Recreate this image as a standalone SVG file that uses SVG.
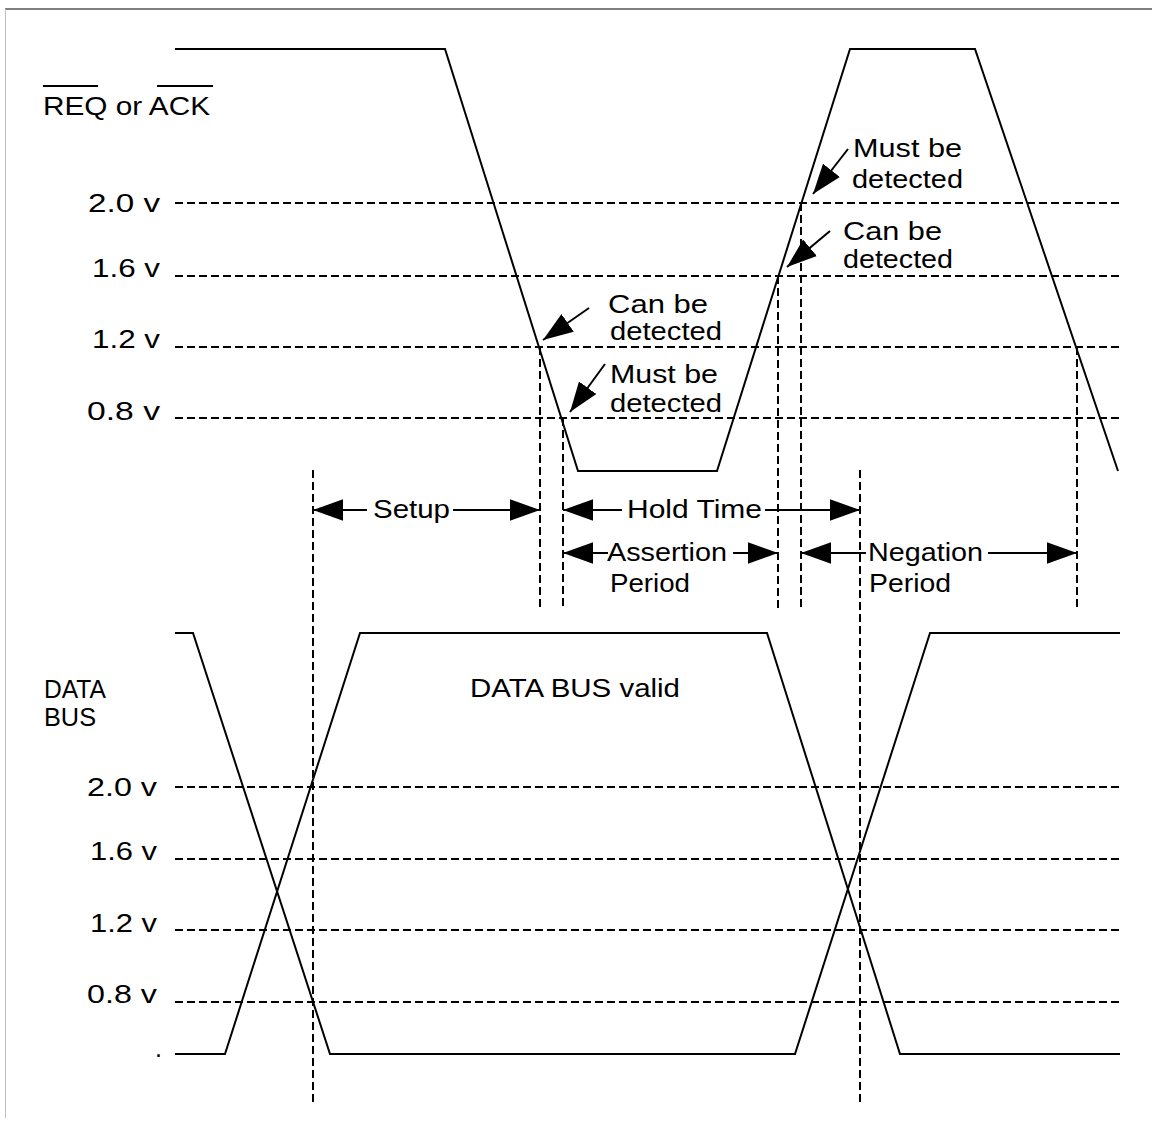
<svg xmlns="http://www.w3.org/2000/svg" width="1152" height="1138" viewBox="0 0 1152 1138">
<defs>
<style>
.t{font-family:"Liberation Sans",Arial,sans-serif;font-size:25px;fill:#000}
.w{fill:none;stroke:#000;stroke-width:2;stroke-linejoin:miter}
.d{fill:none;stroke:#000;stroke-width:2;stroke-dasharray:8 4}
.a{fill:none;stroke:#000;stroke-width:2}
</style>
<marker id="ah" markerUnits="userSpaceOnUse" markerWidth="30" markerHeight="22" viewBox="0 0 28 20" refX="28" refY="10" orient="auto">
<path d="M0,0 L28,10 L0,20 z" fill="#000"/>
</marker>
</defs>
<rect x="0" y="0" width="1152" height="1138" fill="#fff"/>
<g id="frame">
<line x1="5" y1="9" x2="1152" y2="9" stroke="#808080" stroke-width="2"/>
<line x1="5.5" y1="9" x2="5.5" y2="1118" stroke="#c0c0c0" stroke-width="1"/>
</g>
<g id="grid">
<line class="d" x1="175" y1="203" x2="1120" y2="203"/>
<line class="d" x1="175" y1="276" x2="1120" y2="276"/>
<line class="d" x1="175" y1="347" x2="1120" y2="347"/>
<line class="d" x1="175" y1="418" x2="1120" y2="418"/>
<line class="d" x1="175" y1="787" x2="1120" y2="787"/>
<line class="d" x1="175" y1="859" x2="1120" y2="859"/>
<line class="d" x1="175" y1="930" x2="1120" y2="930"/>
<line class="d" x1="175" y1="1002" x2="1120" y2="1002"/>
<line class="d" x1="313" y1="470" x2="313" y2="1103"/>
<line class="d" x1="540" y1="347" x2="540" y2="608"/>
<line class="d" x1="563" y1="418" x2="563" y2="608"/>
<line class="d" x1="778" y1="276" x2="778" y2="608"/>
<line class="d" x1="801" y1="203" x2="801" y2="608"/>
<line class="d" x1="860" y1="470" x2="860" y2="1103"/>
<line class="d" x1="1077" y1="347" x2="1077" y2="608"/>
</g>
<g id="req-ack-signal">
<polyline class="w" points="175,49 445,49 578,471 717,471 850,49 975,49 1118,471"/>
</g>
<g id="data-bus-signal">
<polyline class="w" points="175,633 193,633 330,1054 795,1054 930,633 1120,633"/>
<polyline class="w" points="175,1054 225,1054 360,633 767,633 900,1054 1120,1054"/>
</g>
<g id="labels">
<text class="t" x="43" y="115" textLength="167" lengthAdjust="spacingAndGlyphs">REQ or ACK</text>
<line class="a" x1="43" y1="86" x2="98" y2="86"/>
<line class="a" x1="157" y1="86" x2="213" y2="86"/>
<text class="t" x="88" y="212" textLength="72" lengthAdjust="spacingAndGlyphs">2.0 v</text>
<text class="t" x="92" y="277" textLength="68" lengthAdjust="spacingAndGlyphs">1.6 v</text>
<text class="t" x="92" y="348" textLength="68" lengthAdjust="spacingAndGlyphs">1.2 v</text>
<text class="t" x="87" y="420" textLength="73" lengthAdjust="spacingAndGlyphs">0.8 v</text>
<text class="t" x="44" y="698" textLength="62" lengthAdjust="spacingAndGlyphs">DATA</text>
<text class="t" x="44" y="726" textLength="52" lengthAdjust="spacingAndGlyphs">BUS</text>
<text class="t" x="470" y="697" textLength="210" lengthAdjust="spacingAndGlyphs">DATA BUS valid</text>
<text class="t" x="87" y="796" textLength="70" lengthAdjust="spacingAndGlyphs">2.0 v</text>
<text class="t" x="90" y="860" textLength="67" lengthAdjust="spacingAndGlyphs">1.6 v</text>
<text class="t" x="90" y="932" textLength="67" lengthAdjust="spacingAndGlyphs">1.2 v</text>
<text class="t" x="87" y="1003" textLength="70" lengthAdjust="spacingAndGlyphs">0.8 v</text>
<text class="t" x="155" y="1057">.</text>
</g>
<g id="callout-can-low">
<text class="t" x="608" y="313" textLength="100" lengthAdjust="spacingAndGlyphs">Can be</text>
<text class="t" x="610" y="340" textLength="112" lengthAdjust="spacingAndGlyphs">detected</text>
</g>
<g id="callout-must-low">
<text class="t" x="610" y="383" textLength="108" lengthAdjust="spacingAndGlyphs">Must be</text>
<text class="t" x="610" y="412" textLength="112" lengthAdjust="spacingAndGlyphs">detected</text>
</g>
<g id="callout-must-high">
<text class="t" x="853" y="157" textLength="109" lengthAdjust="spacingAndGlyphs">Must be</text>
<text class="t" x="852" y="188" textLength="111" lengthAdjust="spacingAndGlyphs">detected</text>
</g>
<g id="callout-can-high">
<text class="t" x="843" y="240" textLength="99" lengthAdjust="spacingAndGlyphs">Can be</text>
<text class="t" x="843" y="268" textLength="110" lengthAdjust="spacingAndGlyphs">detected</text>
</g>
<g id="setup">
<text class="t" x="373" y="518" textLength="77" lengthAdjust="spacingAndGlyphs">Setup</text>
</g>
<g id="hold-time">
<text class="t" x="627" y="518" textLength="135" lengthAdjust="spacingAndGlyphs">Hold Time</text>
</g>
<g id="assertion-period">
<text class="t" x="607" y="561" textLength="120" lengthAdjust="spacingAndGlyphs">Assertion</text>
<text class="t" x="610" y="592" textLength="80" lengthAdjust="spacingAndGlyphs">Period</text>
</g>
<g id="negation-period">
<text class="t" x="868" y="561" textLength="115" lengthAdjust="spacingAndGlyphs">Negation</text>
<text class="t" x="869" y="592" textLength="82" lengthAdjust="spacingAndGlyphs">Period</text>
</g>
<g id="connectors">
<line class="a" x1="589" y1="308" x2="543" y2="340" marker-end="url(#ah)"/>
<line class="a" x1="605" y1="364" x2="570" y2="412" marker-end="url(#ah)"/>
<line class="a" x1="848" y1="149" x2="813" y2="194" marker-end="url(#ah)"/>
<line class="a" x1="830" y1="231" x2="787" y2="267" marker-end="url(#ah)"/>
<line class="a" x1="367" y1="510" x2="313" y2="510" marker-end="url(#ah)"/>
<line class="a" x1="453" y1="510" x2="540" y2="510" marker-end="url(#ah)"/>
<line class="a" x1="622" y1="510" x2="563" y2="510" marker-end="url(#ah)"/>
<line class="a" x1="765" y1="510" x2="860" y2="510" marker-end="url(#ah)"/>
<line class="a" x1="608" y1="553" x2="563" y2="553" marker-end="url(#ah)"/>
<line class="a" x1="733" y1="553" x2="778" y2="553" marker-end="url(#ah)"/>
<line class="a" x1="866" y1="553" x2="801" y2="553" marker-end="url(#ah)"/>
<line class="a" x1="988" y1="553" x2="1077" y2="553" marker-end="url(#ah)"/>
</g>
</svg>
